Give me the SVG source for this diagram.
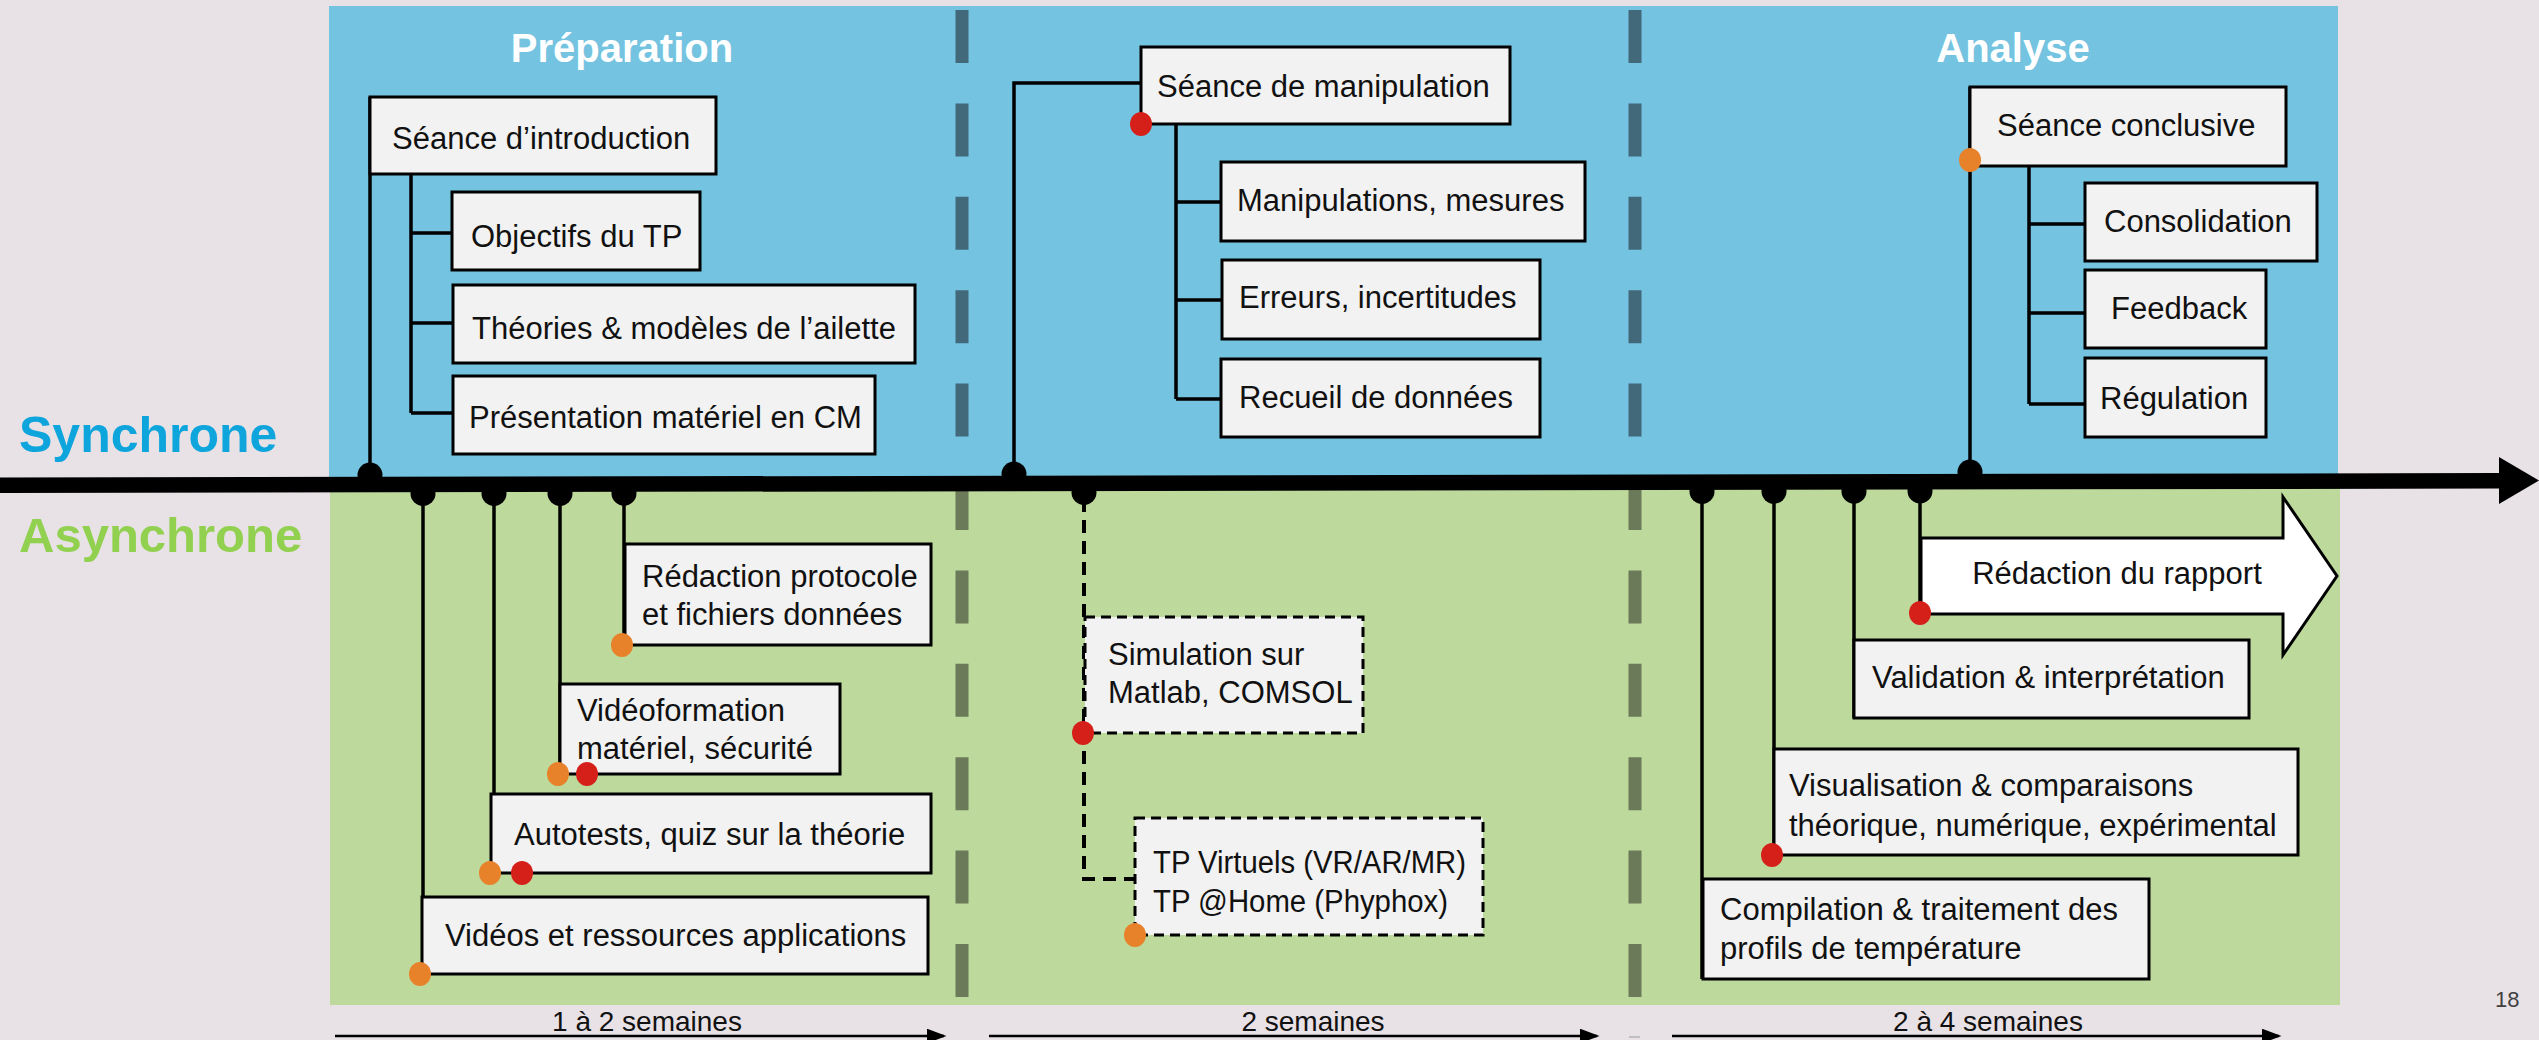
<svg xmlns="http://www.w3.org/2000/svg" width="2539" height="1040" viewBox="0 0 2539 1040">
<defs>
<style>
.box{fill:#F2F2F2;stroke:#000;stroke-width:3}
.dbox{fill:#F2F2F2;stroke:#000;stroke-width:3;stroke-dasharray:10 6}
.t{font-family:"Liberation Sans",Arial,sans-serif;font-size:31px;fill:#111}
.title{font-family:"Liberation Sans",Arial,sans-serif;font-size:40px;font-weight:bold;fill:#fff}
.side{font-family:"Liberation Sans",Arial,sans-serif;font-size:50px;font-weight:bold}
.dur{font-family:"Liberation Sans",Arial,sans-serif;font-size:28px;fill:#111}
.c{fill:none;stroke:#000;stroke-width:3.5}
.cd{fill:none;stroke:#000;stroke-width:4;stroke-dasharray:13 8}
.dot{fill:#000}
.or{fill:#E8822A}
.rd{fill:#D5201A}
.divb{stroke:#41697A;stroke-width:13;stroke-dasharray:53 40.4}
.divg{stroke:#6B7A58;stroke-width:13;stroke-dasharray:53 40.4}
.dl{stroke:#000;stroke-width:2.5}
</style>
<marker id="ah" markerWidth="8" markerHeight="6" refX="7" refY="3" orient="auto" markerUnits="strokeWidth">
<path d="M0,0 L8,3 L0,6 Z" fill="#000"/>
</marker>
</defs>
<rect x="0" y="0" width="2539" height="1040" fill="#E8E2E6"/>
<g id="panels">
<rect x="329" y="6" width="2009" height="476" fill="#74C3E0"/>
<rect x="330" y="482" width="2010" height="523" fill="#BDD99C"/>
<line class="divb" x1="962" y1="10" x2="962" y2="477"/>
<line class="divg" x1="962" y1="477" x2="962" y2="1000"/>
<line class="divb" x1="1635" y1="10" x2="1635" y2="477"/>
<line class="divg" x1="1635" y1="477" x2="1635" y2="1000"/>
</g>
<g id="labels">
<text class="title" x="622" y="62" text-anchor="middle">Préparation</text>
<text class="title" x="2013" y="62" text-anchor="middle">Analyse</text>
<text class="side" x="19" y="452" fill="#0EA5DD">Synchrone</text>
<text class="side" x="19" y="552" fill="#92D050" style="font-size:49px">Asynchrone</text>
<text x="2495" y="1007" style="font-family:'Liberation Sans',Arial,sans-serif;font-size:22px;fill:#404040">18</text>
</g>
<g id="connectors">
<line class="c" x1="370" y1="97" x2="370" y2="478"/>
<path class="c" d="M411,174 V413 M411,233 H453 M411,323 H453 M411,413 H453"/>
<path class="c" d="M1014,477 V83 H1141"/>
<path class="c" d="M1176,124 V399 M1176,202 H1221 M1176,300 H1221 M1176,399 H1221"/>
<line class="c" x1="1970" y1="87" x2="1970" y2="475"/>
<path class="c" d="M2029,166 V404 M2029,224 H2085 M2029,313 H2085 M2029,404 H2085"/>
<line class="c" x1="423" y1="490" x2="423" y2="974"/>
<line class="c" x1="494" y1="490" x2="494" y2="873"/>
<line class="c" x1="560" y1="490" x2="560" y2="774"/>
<line class="c" x1="624" y1="490" x2="624" y2="645"/>
<path class="cd" d="M1084,499 V879 H1135"/>
<line class="c" x1="1702" y1="488" x2="1702" y2="979"/>
<line class="c" x1="1774" y1="488" x2="1774" y2="855"/>
<line class="c" x1="1854" y1="488" x2="1854" y2="718"/>
<line class="c" x1="1920" y1="488" x2="1920" y2="614"/>
</g>
<g id="axis">
<polygon points="0,477.5 2500,473 2500,488.5 0,493" fill="#000"/>
<polygon points="2499,457 2539,480.5 2499,504" fill="#000"/>
<circle class="dot" cx="370" cy="475" r="12.5"/>
<circle class="dot" cx="1014" cy="474" r="12.5"/>
<circle class="dot" cx="1970" cy="472" r="12.5"/>
<circle class="dot" cx="423" cy="493.5" r="12.5"/>
<circle class="dot" cx="494" cy="493.5" r="12.5"/>
<circle class="dot" cx="560" cy="493.3" r="12.5"/>
<circle class="dot" cx="624" cy="493.2" r="12.5"/>
<circle class="dot" cx="1084" cy="492.5" r="12.5"/>
<circle class="dot" cx="1702" cy="491.4" r="12.5"/>
<circle class="dot" cx="1774" cy="491.3" r="12.5"/>
<circle class="dot" cx="1854" cy="491.2" r="12.5"/>
<circle class="dot" cx="1920" cy="491" r="12.5"/>
</g>
<g id="n-intro"><rect class="box" x="370" y="97" width="346" height="77"/><text class="t" x="392" y="149">Séance d’introduction</text></g>
<g id="n-objectifs"><rect class="box" x="452" y="192" width="248" height="78"/><text class="t" x="471" y="247">Objectifs du TP</text></g>
<g id="n-theories"><rect class="box" x="453" y="285" width="462" height="78"/><text class="t" x="472" y="339">Théories &amp; modèles de l’ailette</text></g>
<g id="n-presentation"><rect class="box" x="453" y="376" width="422" height="78"/><text class="t" x="469" y="428">Présentation matériel en CM</text></g>
<g id="n-manip"><rect class="box" x="1141" y="47" width="369" height="77"/><text class="t" x="1157" y="97">Séance de manipulation</text></g>
<g id="n-mesures"><rect class="box" x="1221" y="162" width="364" height="79"/><text class="t" x="1237" y="211">Manipulations, mesures</text></g>
<g id="n-erreurs"><rect class="box" x="1222" y="260" width="318" height="79"/><text class="t" x="1239" y="308">Erreurs, incertitudes</text></g>
<g id="n-recueil"><rect class="box" x="1221" y="359" width="319" height="78"/><text class="t" x="1239" y="408">Recueil de données</text></g>
<g id="n-conclusive"><rect class="box" x="1970" y="87" width="316" height="79"/><text class="t" x="1997" y="136">Séance conclusive</text></g>
<g id="n-consolidation"><rect class="box" x="2085" y="183" width="232" height="78"/><text class="t" x="2104" y="232">Consolidation</text></g>
<g id="n-feedback"><rect class="box" x="2085" y="270" width="181" height="78"/><text class="t" x="2111" y="319">Feedback</text></g>
<g id="n-regulation"><rect class="box" x="2085" y="358" width="181" height="79"/><text class="t" x="2100" y="409">Régulation</text></g>
<g id="n-protocole"><rect class="box" x="625" y="544" width="306" height="101"/><text class="t" x="642" y="587">Rédaction protocole</text><text class="t" x="642" y="625">et fichiers données</text></g>
<g id="n-videoformation"><rect class="box" x="560" y="684" width="280" height="90"/><text class="t" x="577" y="721">Vidéoformation</text><text class="t" x="577" y="759">matériel, sécurité</text></g>
<g id="n-autotests"><rect class="box" x="491" y="794" width="440" height="79"/><text class="t" x="514" y="845">Autotests, quiz sur la théorie</text></g>
<g id="n-videos"><rect class="box" x="422" y="897" width="506" height="77"/><text class="t" x="445" y="946">Vidéos et ressources applications</text></g>
<g id="n-simulation"><rect class="dbox" x="1085" y="617" width="278" height="116"/><text class="t" x="1108" y="665">Simulation sur</text><text class="t" x="1108" y="703">Matlab, COMSOL</text></g>
<g id="n-tpvirtuels"><rect class="dbox" x="1135" y="818" width="348" height="117"/><text class="t" x="1153" y="873" textLength="313" lengthAdjust="spacingAndGlyphs">TP Virtuels (VR/AR/MR)</text><text class="t" x="1153" y="912" textLength="295" lengthAdjust="spacingAndGlyphs">TP @Home (Phyphox)</text></g>
<g id="n-rapport"><polygon points="1921,538 2283,538 2283,497 2337,576 2283,655 2283,614 1921,614" fill="#fff" stroke="#000" stroke-width="3"/><text class="t" x="2117" y="584" text-anchor="middle">Rédaction du rapport</text></g>
<g id="n-validation"><rect class="box" x="1854" y="640" width="395" height="78"/><text class="t" x="1872" y="688">Validation &amp; interprétation</text></g>
<g id="n-visualisation"><rect class="box" x="1774" y="749" width="524" height="106"/><text class="t" x="1789" y="796">Visualisation &amp; comparaisons</text><text class="t" x="1789" y="836">théorique, numérique, expérimental</text></g>
<g id="n-compilation"><rect class="box" x="1703" y="879" width="446" height="100"/><text class="t" x="1720" y="920">Compilation &amp; traitement des</text><text class="t" x="1720" y="959">profils de température</text></g>
<g id="status-dots">
<ellipse class="rd" cx="1141" cy="124" rx="11" ry="12"/>
<ellipse class="or" cx="1970" cy="160" rx="11" ry="12"/>
<ellipse class="or" cx="622" cy="645" rx="11" ry="12"/>
<ellipse class="or" cx="558" cy="774" rx="11" ry="12"/>
<ellipse class="rd" cx="587" cy="774" rx="11" ry="12"/>
<ellipse class="or" cx="490" cy="873" rx="11" ry="12"/>
<ellipse class="rd" cx="522" cy="873" rx="11" ry="12"/>
<ellipse class="or" cx="420" cy="974" rx="11" ry="12"/>
<ellipse class="rd" cx="1083" cy="733" rx="11" ry="12"/>
<ellipse class="or" cx="1135" cy="935" rx="11" ry="12"/>
<ellipse class="rd" cx="1920" cy="613" rx="11" ry="12"/>
<ellipse class="rd" cx="1772" cy="855" rx="11" ry="12"/>
</g>
<g id="durations">
<line class="dl" x1="335" y1="1036" x2="944" y2="1036" marker-end="url(#ah)"/>
<line class="dl" x1="989" y1="1036" x2="1597" y2="1036" marker-end="url(#ah)"/>
<line class="dl" x1="1672" y1="1036" x2="2279" y2="1036" marker-end="url(#ah)"/>
<line x1="1629" y1="1037" x2="1640" y2="1037" stroke="#BFBFBF" stroke-width="2"/>
<text class="dur" x="647" y="1031" text-anchor="middle">1 à 2 semaines</text>
<text class="dur" x="1313" y="1031" text-anchor="middle">2 semaines</text>
<text class="dur" x="1988" y="1031" text-anchor="middle">2 à 4 semaines</text>
</g>
</svg>
